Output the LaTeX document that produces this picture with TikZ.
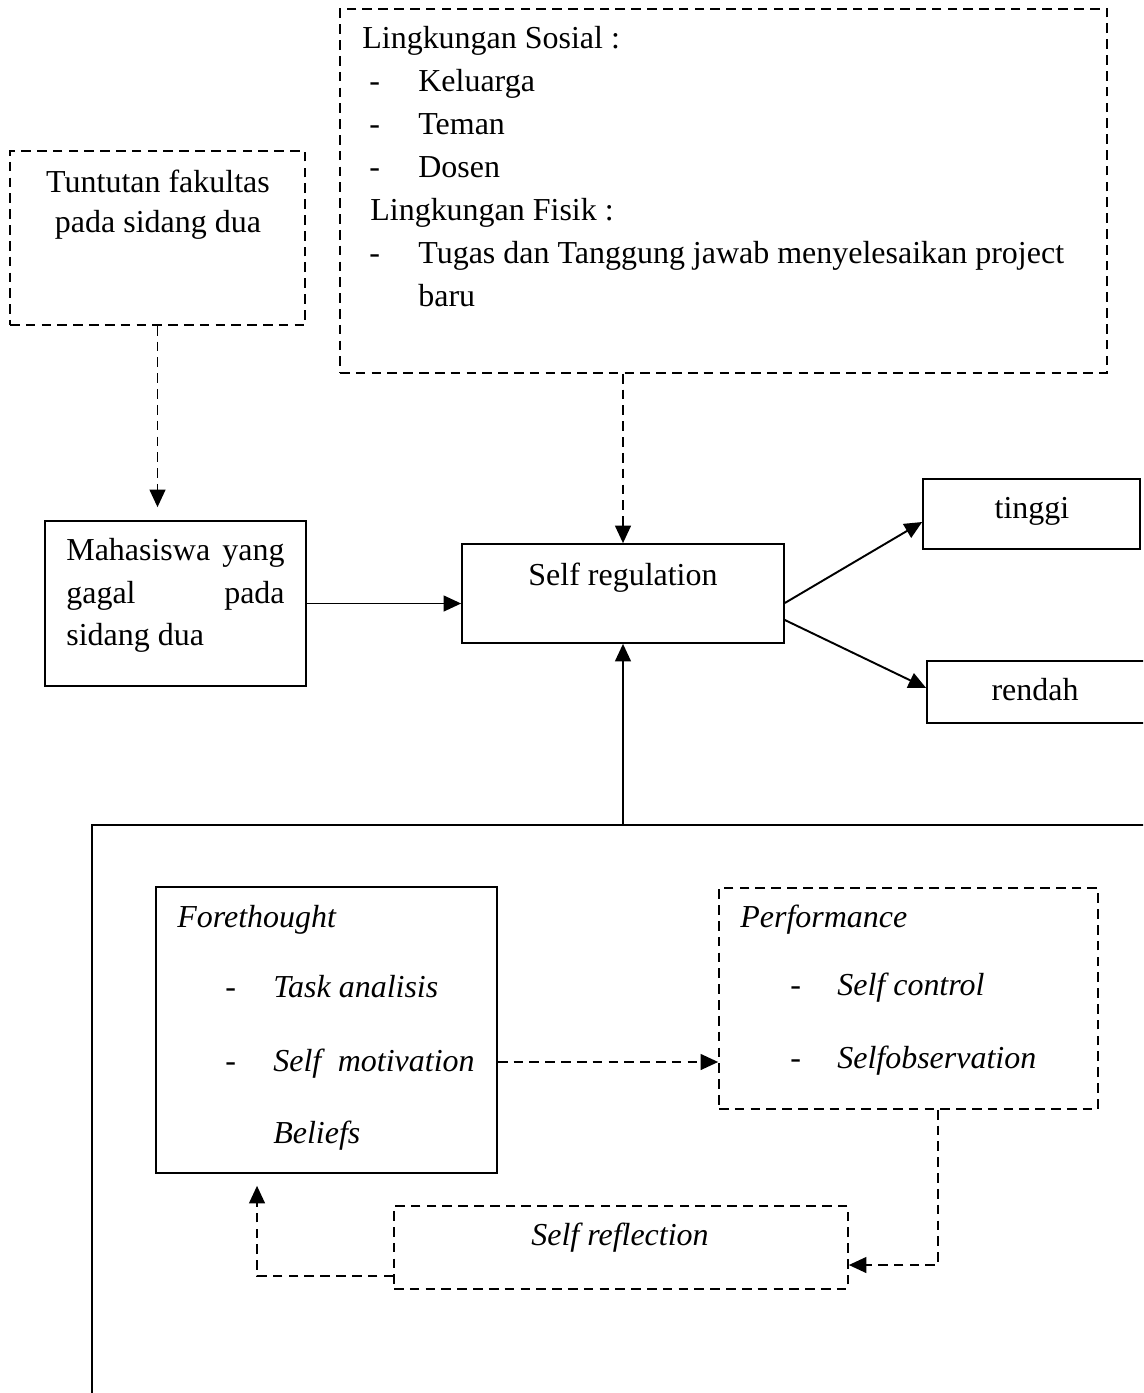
\documentclass[tikz,border=0pt]{standalone}
\usepackage{fontspec}
\setmainfont{Liberation Serif}
\usepackage{tikz}
\usetikzlibrary{
    arrows.meta,
    fit
}

\tikzset{
    solidbox/.style={draw, line width=0.95pt, inner sep=0pt},
    dashbox/.style={solidbox, dash pattern=on 5.5pt off 3.5pt},
    arrow/.style={line width=1.1pt, -{Triangle[length=10pt, width=9pt]}},
    dasharrow/.style={arrow, dash pattern=on 5.5pt off 3.5pt},
    txt/.style={inner sep=0pt, font=\fontsize{18.2}{21}\selectfont},
    itxt/.style={txt, font=\fontsize{18.2}{21}\selectfont\itshape}
}

\begin{document}
\begin{tikzpicture}[x=0.02cm, y=-0.02cm]

\useasboundingbox (0,0) rectangle (1143,1393);
\clip (0,0) rectangle (1143,1393);

% Top boxes
\node[dashbox, fit={(10,151) (305,325)}] (tuntutan) {};
\node[txt, anchor=base] (tu1) at (158,192) {Tuntutan fakultas};
\node[txt, anchor=base] (tu2) at (158,232) {pada sidang dua};

\node[dashbox, fit={(340,9) (1107,373)}] (sosial) {};
\node[txt, anchor=base west] (so1) at (362,48) {Lingkungan Sosial :};
\node[txt, anchor=base west] (so2a) at (369,91) {-};
\node[txt, anchor=base west] (so2) at (418,91) {Keluarga};
\node[txt, anchor=base west] (so3a) at (369,134) {-};
\node[txt, anchor=base west] (so3) at (418,134) {Teman};
\node[txt, anchor=base west] (so4a) at (369,177) {-};
\node[txt, anchor=base west] (so4) at (418,177) {Dosen};
\node[txt, anchor=base west] (fi1) at (370,220) {Lingkungan Fisik :};
\node[txt, anchor=base west] (fi2a) at (369,263) {-};
\node[txt, anchor=base west] (fi2) at (418,263) {Tugas dan Tanggung jawab menyelesaikan project};
\node[txt, anchor=base west] (fi3) at (418,306) {baru};

% Middle row
\node[solidbox, fit={(45,521) (306,686)}] (mhs) {};
\node[txt, anchor=base west] (mh1) at (66,560) {Mahasiswa};
\node[txt, anchor=base east] (mh1b) at (285,560) {yang};
\node[txt, anchor=base west] (mh2) at (66,603) {gagal};
\node[txt, anchor=base east] (mh2b) at (285,603) {pada};
\node[txt, anchor=base west] (mh3) at (66,645) {sidang dua};

\node[solidbox, fit={(462,544) (784,643)}] (selfreg) {};
\node[txt, anchor=base] (sr) at (623,585) {Self regulation};

\node[solidbox, fit={(923,479) (1140,549)}] (tinggi) {};
\node[txt, anchor=base] (ti) at (1032,518) {tinggi};

\node[solidbox, fit={(927,661) (1160,723)}] (rendah) {};
\node[txt, anchor=base] (re) at (1035,700) {rendah};

% Frame with the three phases
\node[solidbox, fit={(92,825) (1200,1450)}] (frame) {};

\node[solidbox, fit={(156,887) (497,1173)}] (forethought) {};
\node[itxt, anchor=base west] (fo1) at (177,927) {Forethought};
\node[itxt, anchor=base west] (fo2a) at (225,997) {-};
\node[itxt, anchor=base west] (fo2) at (273,997) {Task analisis};
\node[itxt, anchor=base west] (fo3a) at (225,1071) {-};
\node[itxt, anchor=base west] (fo3) at (273,1071) {Self};
\node[itxt, anchor=base east] (fo3b) at (475,1071) {motivation};
\node[itxt, anchor=base west] (fo4) at (273,1143) {Beliefs};

\node[dashbox, fit={(719,888) (1098,1109)}] (perf) {};
\node[itxt, anchor=base west] (pe1) at (740,927) {Performance};
\node[itxt, anchor=base west] (pe2a) at (790,995) {-};
\node[itxt, anchor=base west] (pe2) at (837,995) {Self control};
\node[itxt, anchor=base west] (pe3a) at (790,1068) {-};
\node[itxt, anchor=base west] (pe3) at (837,1068) {Selfobservation};

\node[dashbox, fit={(394,1206) (848,1289)}] (reflect) {};
\node[itxt, anchor=base] (rf) at (620,1245) {Self reflection};

% Arrows
\draw[dasharrow, shorten >=0.26cm] (tuntutan.south) -- (tuntutan.south |- mhs.north);
\draw[dasharrow] (selfreg.north |- sosial.south) -- (selfreg.north);
\draw[arrow] (mhs.east) -- (mhs.east -| selfreg.west);
\draw[arrow] ([yshift=-0.19cm]selfreg.east) -- ([yshift=-0.16cm]tinggi.west);
\draw[arrow] ([yshift=-0.53cm]selfreg.east) -- ([yshift=0.08cm]rendah.west);
\draw[arrow] (selfreg.south |- frame.north) -- (selfreg.south);

\coordinate (ftout) at ([yshift=-0.64cm]forethought.east);
\draw[dasharrow] (ftout) -- (ftout -| perf.west);
\draw[dasharrow] ([xshift=0.59cm]perf.south) |- ([yshift=-0.35cm]reflect.east);
\draw[dasharrow, shorten >=0.24cm] ([yshift=-0.57cm]reflect.west) -| ([xshift=-1.39cm]forethought.south);

\end{tikzpicture}
\end{document}
